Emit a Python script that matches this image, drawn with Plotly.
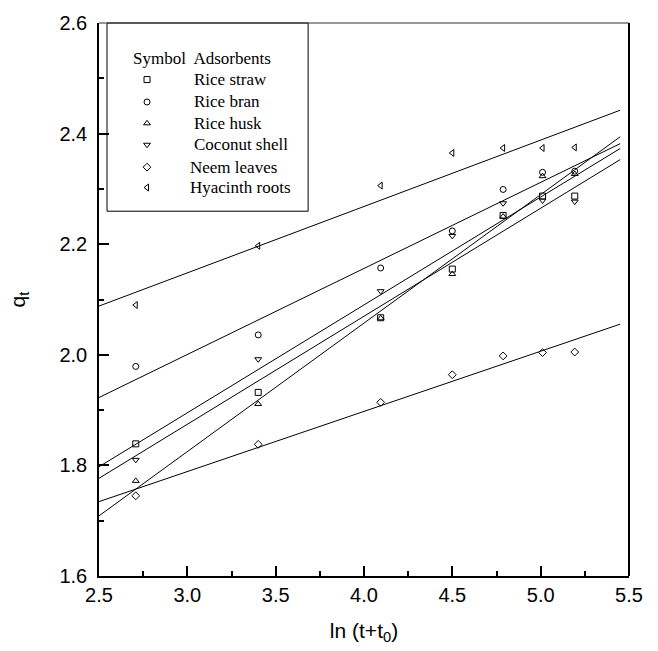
import numpy as np
import plotly.graph_objects as go

# ---- data ----
t_min = [15, 30, 60, 90, 120, 150, 180]
x_ln = [float(np.log(t)) for t in t_min]  # ln(t+t0)

adsorbents = ["Rice straw", "Rice bran", "Rice husk", "Coconut shell", "Neem leaves", "Hyacinth roots"]
q_rice_straw = [1.839, 1.932, 2.067, 2.155, 2.252, 2.287, 2.287]
q_rice_bran = [1.979, 2.036, 2.157, 2.224, 2.299, 2.330, 2.332]
q_rice_husk = [1.772, 1.911, 2.066, 2.146, 2.250, 2.323, 2.327]
q_coconut = [1.810, 1.992, 2.115, 2.215, 2.274, 2.279, 2.277]
q_neem = [1.745, 1.838, 1.914, 1.964, 1.998, 2.004, 2.005]
q_hyacinth = [2.090, 2.197, 2.306, 2.365, 2.374, 2.374, 2.375]
series = [q_rice_straw, q_rice_bran, q_rice_husk, q_coconut, q_neem, q_hyacinth]
symbols = ["square-open", "circle-open", "triangle-up-open", "triangle-down-open",
           "diamond-open", "triangle-left-open"]
fit_x_range = [2.5, 5.45]

x_ticks = [2.5, 3.0, 3.5, 4.0, 4.5, 5.0, 5.5]
y_ticks = [1.6, 1.8, 2.0, 2.2, 2.4, 2.6]

# ---- figure ----
fig = go.Figure()
xx = np.array(fit_x_range)
for name, ys, sym in zip(adsorbents, series, symbols):
    k, b = np.polyfit(x_ln, ys, 1)
    fig.add_trace(go.Scatter(x=xx, y=k * xx + b, mode="lines",
                             line=dict(color="black", width=1), showlegend=False,
                             hoverinfo="skip"))
    fig.add_trace(go.Scatter(x=x_ln, y=ys, mode="markers", name=name, showlegend=False,
                             marker=dict(symbol=sym, size=6, color="black",
                                         line=dict(color="black", width=1))))

# ---- hand-made legend (paper-fraction overlay axes) ----
L, R, T, B = 99.3, 629.0, 16.7, 576.7
W, H = R - L, B - T
def px(x):
    return (x - L) / W
def py(y):
    return (B - y) / H

row_y = [74, 96.7, 118.3, 140, 162.7, 183.3]
text_x = [192.7, 192.7, 192.7, 192.7, 188.3, 188.3]
sym_x = 147.3
fig.add_trace(go.Scatter(x=[px(sym_x)] * len(row_y), y=[py(v) for v in row_y],
                         xaxis="x2", yaxis="y2", mode="markers", showlegend=False,
                         hoverinfo="skip",
                         marker=dict(symbol=symbols, size=6, color="black",
                                     line=dict(color="black", width=1))))

serif = dict(family="Liberation Serif, Times New Roman, serif", size=17, color="black")
annotations = [dict(xref="paper", yref="paper", x=px(131.7), y=py(52.7), text="Symbol  Adsorbents",
                    showarrow=False, xanchor="left", yanchor="middle", font=serif)]
for name, ry, tx in zip(adsorbents, row_y, text_x):
    annotations.append(dict(xref="paper", yref="paper", x=px(tx), y=py(ry), text=name,
                            showarrow=False, xanchor="left", yanchor="middle", font=serif))

shapes = [
    dict(type="rect", xref="paper", yref="paper", x0=px(107.3), x1=px(308.3), y0=py(207.3), y1=1.0,
         line=dict(color="black", width=1), fillcolor="rgba(0,0,0,0)"),
    dict(type="line", xref="paper", yref="paper", x0=0, x1=1, y0=1, y1=1,
         line=dict(color="#333333", width=1)),
    dict(type="line", xref="paper", yref="paper", x0=1, x1=1, y0=0, y1=1,
         line=dict(color="black", width=2)),
]

sans = dict(family="Liberation Sans, Arial, sans-serif", size=20, color="black")
title_font = dict(family="Liberation Sans, Arial, sans-serif", size=21, color="black")
fig.update_layout(
    width=658, height=651,
    margin=dict(l=99, r=29, t=17, b=74, pad=0),
    paper_bgcolor="white", plot_bgcolor="white",
    showlegend=False,
    annotations=annotations, shapes=shapes,
    xaxis=dict(range=[2.5, 5.5], tickvals=x_ticks, ticktext=[f"{v:.1f}" for v in x_ticks],
               ticks="inside", ticklen=10, tickwidth=1.5, tickcolor="black",
               minor=dict(dtick=0.25, ticks="inside", ticklen=5, tickwidth=1.5, tickcolor="black"),
               showline=True, linecolor="black", linewidth=2, mirror=False,
               showgrid=False, zeroline=False, tickfont=sans,
               title=dict(text="ln (t+t<sub>0</sub>)", font=title_font, standoff=18)),
    yaxis=dict(range=[1.6, 2.6], tickvals=y_ticks, ticktext=[f"{v:.1f}" for v in y_ticks],
               ticks="inside", ticklen=10, tickwidth=1.5, tickcolor="black",
               minor=dict(dtick=0.1, ticks="inside", ticklen=5, tickwidth=1.5, tickcolor="black"),
               showline=True, linecolor="black", linewidth=1.5, mirror=False,
               showgrid=False, zeroline=False, tickfont=sans, ticklabelstandoff=6,
               title=dict(text="q<sub>t</sub>", font=title_font, standoff=28)),
    xaxis2=dict(overlaying="x", range=[0, 1], visible=False, fixedrange=True),
    yaxis2=dict(overlaying="y", range=[0, 1], visible=False, fixedrange=True),
)

fig.write_html("out.html")
